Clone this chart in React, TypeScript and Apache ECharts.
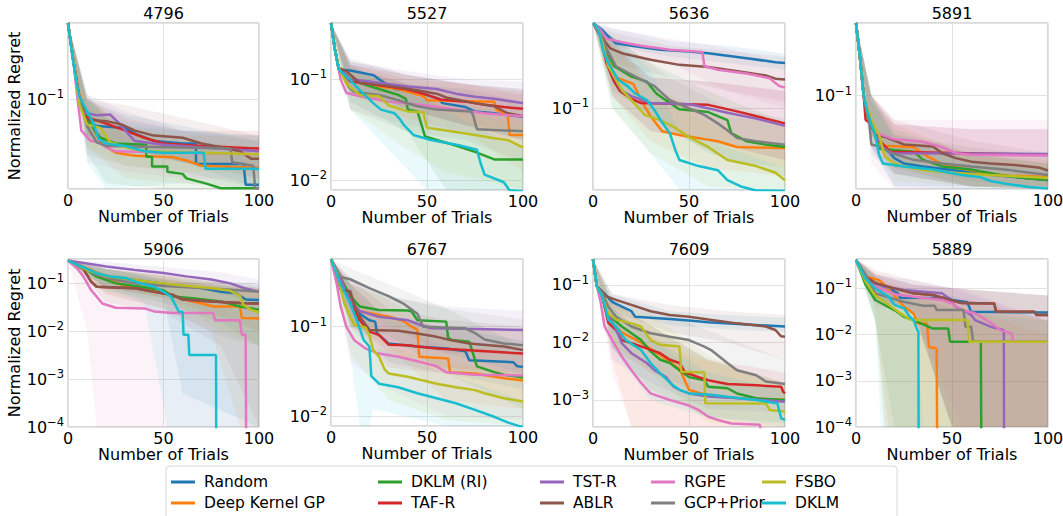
import React, { useEffect, useRef } from 'react';
import * as echarts from 'echarts';

const methods = ['Random', 'Deep Kernel GP', 'DKLM (RI)', 'TAF-R', 'TST-R', 'ABLR', 'RGPE', 'GCP+Prior', 'FSBO', 'DKLM'];
const colors = ['#1f77b4', '#ff7f0e', '#2ca02c', '#d62728', '#9467bd', '#8c564b', '#e377c2', '#7f7f7f', '#bcbd22', '#17becf'];
const panelTitles = ['4796', '5527', '5636', '5891', '5906', '6767', '7609', '5889'];
const yMins = [0.01795, 0.00796, 0.0284, 0.0191, 0.0001, 0.00773, 0.000339, 0.0001];
const yMaxs = [0.434, 0.362, 0.369, 0.361, 0.323, 0.573, 0.283, 0.432];
const xTickInterval = 50;
const Z = 0.000001;

// ---- 4796 ----
const lines4796 = [
  [[0,0.434],[3,0.2],[6,0.1],[10,0.065],[15,0.06],[30,0.058],[35,0.052],[45,0.045],[60,0.043],[67,0.043],[67,0.029],[92,0.029],[93,0.0195],[100,0.0195]],
  [[0,0.434],[3,0.2],[6,0.11],[10,0.075],[15,0.05],[18,0.042],[25,0.036],[35,0.034],[55,0.033],[62,0.031],[70,0.028],[100,0.027]],
  [[0,0.434],[3,0.2],[6,0.1],[10,0.07],[14,0.055],[17,0.048],[25,0.043],[41,0.042],[41,0.0334],[44,0.0334],[44,0.0276],[52,0.0276],[52,0.025],[60,0.024],[62,0.022],[72,0.02],[80,0.0182],[100,0.0182]],
  [[0,0.434],[3,0.2],[6,0.1],[9,0.072],[20,0.063],[30,0.055],[40,0.048],[50,0.043],[70,0.041],[100,0.039]],
  [[0,0.434],[3,0.2],[6,0.1],[8,0.078],[15,0.074],[22,0.075],[26,0.065],[30,0.055],[35,0.045],[50,0.042],[100,0.037]],
  [[0,0.434],[3,0.2],[6,0.1],[9,0.068],[20,0.066],[28,0.062],[35,0.055],[45,0.05],[60,0.048],[70,0.043],[80,0.04],[90,0.037],[96,0.032],[100,0.032]],
  [[0,0.434],[3,0.2],[5,0.1],[7,0.055],[12,0.045],[16,0.044],[20,0.04],[25,0.037],[100,0.035]],
  [[0,0.434],[3,0.2],[6,0.1],[10,0.06],[15,0.044],[20,0.041],[85,0.039],[86,0.03],[97,0.028],[98,0.0182],[100,0.0182]],
  [[0,0.434],[3,0.2],[6,0.09],[10,0.062],[17,0.058],[22,0.044],[30,0.04],[40,0.037],[100,0.035]],
  [[0,0.434],[2,0.25],[4,0.15],[6,0.105],[10,0.08],[13,0.065],[16,0.047],[20,0.043],[30,0.041],[40,0.037],[50,0.036],[71,0.036],[72,0.0265],[100,0.0265]],
];
const bands4796 = [
  [[0,0.43,0.43],[10,0.045,0.1],[30,0.04,0.075],[60,0.03,0.06],[100,0.012,0.045]],
  [[0,0.43,0.43],[10,0.04,0.11],[30,0.022,0.05],[60,0.02,0.045],[100,0.018,0.04]],
  [[0,0.43,0.43],[10,0.035,0.1],[20,0.02,0.07],[50,0.01,0.045],[100,0.008,0.035]],
  [[0,0.43,0.43],[10,0.05,0.1],[30,0.04,0.07],[60,0.03,0.055],[100,0.028,0.055]],
  [[0,0.43,0.43],[10,0.05,0.11],[30,0.035,0.08],[60,0.03,0.055],[100,0.025,0.05]],
  [[0,0.43,0.43],[10,0.045,0.1],[30,0.04,0.09],[60,0.03,0.07],[100,0.022,0.05]],
  [[0,0.43,0.43],[10,0.03,0.09],[30,0.025,0.055],[60,0.022,0.05],[100,0.022,0.05]],
  [[0,0.43,0.43],[10,0.035,0.1],[30,0.028,0.06],[60,0.025,0.055],[100,0.01,0.045]],
  [[0,0.43,0.43],[10,0.04,0.1],[30,0.028,0.06],[60,0.025,0.05],[100,0.025,0.05]],
  [[0,0.43,0.43],[10,0.03,0.11],[20,0.015,0.07],[60,0.02,0.055],[100,0.012,0.05]],
];

// ---- 5527 ----
const lines5527 = [
  [[0,0.362],[2,0.2],[4,0.125],[10,0.122],[22,0.11],[25,0.1],[33,0.08],[45,0.075],[56,0.064],[58,0.058],[70,0.053],[75,0.048],[85,0.046],[100,0.0425]],
  [[0,0.362],[2,0.2],[4,0.13],[10,0.1],[20,0.09],[25,0.085],[35,0.08],[40,0.075],[48,0.068],[50,0.062],[85,0.06],[86,0.05],[90,0.046],[92,0.046],[93,0.028],[100,0.028]],
  [[0,0.362],[2,0.2],[4,0.13],[10,0.1],[18,0.088],[25,0.08],[35,0.07],[39,0.064],[40,0.05],[45,0.048],[47,0.036],[49,0.027],[55,0.025],[65,0.022],[75,0.019],[85,0.016],[100,0.016]],
  [[0,0.362],[2,0.2],[4,0.13],[10,0.095],[20,0.09],[30,0.085],[40,0.079],[50,0.07],[57,0.063],[70,0.06],[80,0.056],[90,0.053],[100,0.051]],
  [[0,0.362],[2,0.2],[4,0.13],[10,0.1],[20,0.095],[30,0.09],[40,0.085],[55,0.08],[65,0.072],[75,0.067],[85,0.064],[100,0.058]],
  [[0,0.362],[2,0.2],[4,0.13],[8,0.12],[15,0.092],[30,0.086],[45,0.078],[55,0.072],[60,0.066],[75,0.058],[85,0.054],[92,0.046],[100,0.043]],
  [[0,0.362],[2,0.2],[5,0.1],[8,0.073],[15,0.068],[30,0.06],[50,0.055],[65,0.05],[80,0.046],[100,0.043]],
  [[0,0.362],[2,0.2],[4,0.13],[9,0.085],[12,0.075],[25,0.07],[35,0.062],[45,0.054],[55,0.05],[73,0.048],[74,0.044],[76,0.032],[100,0.0305]],
  [[0,0.362],[2,0.2],[4,0.13],[8,0.09],[15,0.07],[25,0.068],[30,0.055],[40,0.048],[48,0.047],[50,0.033],[60,0.031],[75,0.028],[85,0.026],[92,0.025],[100,0.021]],
  [[0,0.362],[2,0.2],[4,0.125],[10,0.098],[15,0.078],[22,0.058],[26,0.05],[33,0.046],[36,0.04],[38,0.035],[43,0.028],[52,0.025],[66,0.0223],[76,0.02],[78,0.0145],[80,0.0113],[90,0.0095],[93,0.0079],[100,0.0077]],
];
const bands5527 = [
  [[0,0.36,0.36],[10,0.08,0.15],[40,0.05,0.11],[70,0.035,0.09],[100,0.025,0.08]],
  [[0,0.36,0.36],[10,0.07,0.14],[40,0.04,0.1],[70,0.03,0.09],[100,0.012,0.07]],
  [[0,0.36,0.36],[10,0.06,0.13],[40,0.03,0.09],[60,0.008,0.05],[100,0.006,0.035]],
  [[0,0.36,0.36],[10,0.07,0.14],[40,0.05,0.11],[70,0.035,0.09],[100,0.03,0.08]],
  [[0,0.36,0.36],[10,0.07,0.15],[40,0.06,0.12],[70,0.045,0.1],[100,0.035,0.095]],
  [[0,0.36,0.36],[10,0.08,0.16],[40,0.05,0.11],[70,0.035,0.09],[100,0.025,0.075]],
  [[0,0.36,0.36],[10,0.05,0.14],[40,0.035,0.09],[70,0.03,0.08],[100,0.025,0.07]],
  [[0,0.36,0.36],[10,0.05,0.13],[40,0.03,0.09],[70,0.025,0.08],[100,0.015,0.06]],
  [[0,0.36,0.36],[10,0.05,0.12],[40,0.02,0.08],[60,0.012,0.06],[100,0.008,0.045]],
  [[0,0.36,0.36],[10,0.05,0.14],[30,0.02,0.09],[50,0.006,0.06],[100,0.005,0.02]],
];

// ---- 5636 ----
const lines5636 = [
  [[0,0.369],[5,0.33],[8,0.3],[12,0.27],[20,0.26],[35,0.245],[50,0.238],[60,0.232],[80,0.215],[95,0.202],[100,0.2]],
  [[0,0.369],[4,0.3],[7,0.22],[12,0.16],[21,0.145],[25,0.113],[30,0.088],[36,0.07],[45,0.066],[55,0.063],[65,0.06],[75,0.055],[100,0.054]],
  [[0,0.369],[4,0.3],[7,0.24],[11,0.19],[20,0.162],[28,0.15],[33,0.125],[37,0.115],[45,0.098],[60,0.094],[70,0.083],[72,0.068],[80,0.06],[90,0.057],[100,0.055]],
  [[0,0.369],[4,0.3],[7,0.2],[11,0.15],[14,0.13],[20,0.115],[25,0.108],[60,0.105],[75,0.095],[90,0.085],[100,0.079]],
  [[0,0.369],[4,0.3],[7,0.22],[11,0.16],[15,0.13],[20,0.12],[30,0.108],[50,0.106],[55,0.103],[70,0.093],[85,0.085],[100,0.076]],
  [[0,0.369],[4,0.32],[6,0.28],[9,0.25],[15,0.232],[30,0.21],[45,0.194],[60,0.188],[70,0.18],[78,0.174],[90,0.165],[95,0.157],[100,0.155]],
  [[0,0.369],[4,0.33],[7,0.29],[15,0.275],[25,0.26],[40,0.245],[57,0.236],[58,0.19],[65,0.18],[80,0.17],[92,0.158],[97,0.14],[100,0.137]],
  [[0,0.369],[4,0.31],[7,0.25],[12,0.19],[22,0.162],[32,0.14],[40,0.113],[48,0.102],[58,0.09],[65,0.079],[70,0.071],[75,0.063],[85,0.06],[100,0.057]],
  [[0,0.369],[3,0.33],[5,0.27],[8,0.19],[15,0.132],[20,0.113],[27,0.09],[35,0.083],[42,0.075],[50,0.064],[60,0.055],[70,0.045],[85,0.041],[95,0.037],[100,0.033]],
  [[0,0.369],[3,0.33],[5,0.25],[7,0.21],[13,0.155],[18,0.14],[22,0.125],[28,0.113],[32,0.097],[36,0.08],[40,0.068],[43,0.052],[45,0.045],[55,0.041],[65,0.0385],[70,0.033],[77,0.03],[85,0.0282],[100,0.028]],
];
const bands5636 = [
  [[0,0.37,0.37],[10,0.26,0.34],[40,0.22,0.28],[70,0.2,0.26],[100,0.18,0.23]],
  [[0,0.37,0.37],[10,0.12,0.3],[30,0.06,0.14],[60,0.04,0.09],[100,0.035,0.08]],
  [[0,0.37,0.37],[10,0.13,0.3],[30,0.09,0.2],[60,0.05,0.13],[100,0.035,0.08]],
  [[0,0.37,0.37],[10,0.12,0.26],[30,0.07,0.16],[60,0.06,0.15],[100,0.045,0.13]],
  [[0,0.37,0.37],[10,0.12,0.28],[30,0.07,0.16],[60,0.06,0.15],[100,0.045,0.13]],
  [[0,0.37,0.37],[10,0.2,0.32],[40,0.16,0.26],[70,0.13,0.24],[100,0.11,0.22]],
  [[0,0.37,0.37],[10,0.22,0.34],[40,0.2,0.29],[70,0.13,0.25],[100,0.1,0.2]],
  [[0,0.37,0.37],[10,0.14,0.3],[40,0.07,0.16],[70,0.045,0.1],[100,0.04,0.085]],
  [[0,0.37,0.37],[10,0.1,0.26],[30,0.05,0.14],[60,0.03,0.08],[100,0.025,0.05]],
  [[0,0.37,0.37],[10,0.1,0.3],[30,0.05,0.18],[45,0.02,0.07],[100,0.02,0.04]],
];

// ---- 5891 ----
const lines5891 = [
  [[0,0.361],[2,0.2],[4,0.1],[6,0.07],[9,0.055],[15,0.04],[20,0.033],[25,0.03],[35,0.0285],[50,0.0267],[65,0.025],[80,0.0238],[100,0.0224]],
  [[0,0.361],[2,0.2],[4,0.1],[6,0.07],[10,0.05],[15,0.041],[30,0.04],[35,0.0355],[45,0.0295],[55,0.0275],[70,0.025],[80,0.0242],[100,0.0236]],
  [[0,0.361],[2,0.2],[4,0.1],[6,0.07],[10,0.05],[12,0.039],[30,0.037],[35,0.032],[45,0.0285],[60,0.027],[75,0.0245],[90,0.023],[100,0.0224]],
  [[0,0.361],[2,0.2],[4,0.1],[5,0.065],[8,0.06],[12,0.045],[18,0.037],[100,0.035]],
  [[0,0.361],[2,0.2],[4,0.1],[6,0.07],[10,0.052],[14,0.04],[18,0.036],[100,0.0355]],
  [[0,0.361],[2,0.2],[4,0.1],[6,0.07],[10,0.05],[15,0.048],[20,0.045],[25,0.042],[40,0.0405],[45,0.036],[52,0.033],[60,0.031],[70,0.03],[85,0.029],[95,0.028],[100,0.0265]],
  [[0,0.361],[2,0.2],[4,0.1],[6,0.073],[8,0.065],[10,0.052],[20,0.046],[35,0.044],[40,0.042],[45,0.04],[52,0.036],[60,0.035],[100,0.0345]],
  [[0,0.361],[2,0.2],[4,0.1],[7,0.06],[8,0.042],[12,0.0405],[20,0.0355],[30,0.032],[45,0.03],[60,0.0285],[80,0.0267],[100,0.0245]],
  [[0,0.361],[2,0.2],[4,0.1],[6,0.08],[9,0.06],[12,0.05],[15,0.034],[20,0.03],[25,0.0285],[35,0.0267],[50,0.0255],[70,0.0245],[100,0.0232]],
  [[0,0.361],[2,0.2],[4,0.1],[6,0.075],[8,0.06],[10,0.05],[12,0.035],[14,0.03],[25,0.0285],[40,0.027],[55,0.0245],[65,0.0235],[70,0.022],[78,0.021],[90,0.0198],[100,0.0193]],
];
const bands5891 = [
  [[0,0.36,0.36],[8,0.05,0.1],[20,0.025,0.05],[60,0.02,0.035],[100,0.018,0.03]],
  [[0,0.36,0.36],[8,0.05,0.1],[20,0.028,0.06],[60,0.02,0.035],[100,0.018,0.032]],
  [[0,0.36,0.36],[8,0.05,0.1],[20,0.028,0.055],[60,0.02,0.036],[100,0.018,0.03]],
  [[0,0.36,0.36],[8,0.04,0.09],[20,0.025,0.06],[60,0.02,0.055],[100,0.02,0.055]],
  [[0,0.36,0.36],[8,0.04,0.1],[20,0.02,0.06],[60,0.02,0.055],[100,0.02,0.055]],
  [[0,0.36,0.36],[8,0.05,0.1],[20,0.03,0.065],[60,0.022,0.045],[100,0.02,0.036]],
  [[0,0.36,0.36],[8,0.03,0.1],[20,0.015,0.065],[60,0.015,0.065],[100,0.015,0.065]],
  [[0,0.36,0.36],[8,0.035,0.09],[20,0.025,0.05],[60,0.02,0.04],[100,0.018,0.034]],
  [[0,0.36,0.36],[8,0.05,0.1],[20,0.022,0.045],[60,0.02,0.034],[100,0.018,0.03]],
  [[0,0.36,0.36],[8,0.04,0.1],[20,0.02,0.045],[60,0.018,0.032],[100,0.015,0.028]],
];

// ---- 5906 ----
const lines5906 = [
  [[0,0.3],[10,0.2],[20,0.138],[35,0.118],[55,0.092],[70,0.08],[80,0.067],[88,0.062],[93,0.046],[100,0.045]],
  [[0,0.3],[12,0.19],[20,0.13],[31,0.085],[45,0.07],[55,0.055],[62,0.045],[70,0.038],[76,0.033],[90,0.033],[91,0.019],[100,0.0185]],
  [[0,0.3],[10,0.19],[15,0.138],[25,0.1],[38,0.085],[50,0.072],[55,0.053],[65,0.049],[80,0.042],[90,0.033],[100,0.028]],
  [[0,0.3],[8,0.2],[12,0.11],[15,0.085],[35,0.079],[45,0.067],[55,0.057],[60,0.046],[75,0.042],[90,0.039],[100,0.038]],
  [[0,0.3],[10,0.26],[20,0.225],[35,0.19],[50,0.165],[62,0.14],[75,0.12],[85,0.1],[92,0.08],[100,0.067]],
  [[0,0.3],[8,0.2],[12,0.11],[15,0.085],[35,0.079],[45,0.067],[55,0.057],[60,0.046],[75,0.042],[90,0.039],[100,0.038]],
  [[0,0.3],[5,0.2],[8,0.14],[12,0.073],[15,0.053],[18,0.038],[25,0.031],[40,0.03],[45,0.026],[55,0.024],[76,0.024],[77,0.017],[90,0.017],[91,0.0085],[93,0.0085],[93.5,Z]],
  [[0,0.3],[8,0.22],[15,0.15],[25,0.118],[35,0.1],[50,0.088],[70,0.08],[85,0.074],[100,0.067]],
  [[0,0.3],[10,0.19],[20,0.14],[30,0.125],[45,0.105],[60,0.09],[75,0.08],[85,0.07],[90,0.055],[92,0.035],[96,0.028],[100,0.025]],
  [[0,0.3],[5,0.24],[10,0.2],[15,0.162],[22,0.14],[30,0.13],[38,0.1],[45,0.085],[50,0.067],[54,0.053],[58,0.0255],[60,0.0255],[60.5,0.0085],[63,0.0085],[63.5,0.0032],[77.5,0.0032],[77.7,Z]],
];
const bands5906 = [
  [[0,0.3,0.3],[20,0.08,0.2],[50,0.05,0.14],[60,0.0005,0.12],[100,0.00001,0.09]],
  [[0,0.3,0.3],[20,0.06,0.2],[50,0.03,0.13],[75,0.01,0.09],[90,0.00001,0.07],[100,0.00001,0.06]],
  [[0,0.3,0.3],[20,0.07,0.2],[50,0.04,0.12],[80,0.015,0.09],[100,0.005,0.07]],
  [[0,0.3,0.3],[20,0.08,0.2],[50,0.05,0.15],[80,0.02,0.1],[100,0.01,0.08]],
  [[0,0.3,0.3],[20,0.15,0.28],[50,0.1,0.22],[80,0.06,0.17],[100,0.04,0.12]],
  [[0,0.3,0.3],[20,0.04,0.16],[50,0.025,0.12],[80,0.005,0.09],[100,0.00001,0.08]],
  [[0,0.3,0.3],[10,0.01,0.2],[15,0.00001,0.15],[50,0.00001,0.06],[100,0.00001,0.04]],
  [[0,0.3,0.3],[20,0.06,0.2],[50,0.03,0.15],[80,0.008,0.11],[100,0.005,0.1]],
  [[0,0.3,0.3],[20,0.08,0.2],[50,0.05,0.15],[80,0.01,0.11],[100,0.005,0.08]],
  [[0,0.3,0.3],[20,0.08,0.2],[40,0.04,0.15],[52,0.00001,0.1],[100,0.00001,0.05]],
];

// ---- 6767 ----
const lines6767 = [
  [[0,0.57],[5,0.35],[10,0.2],[15,0.14],[20,0.118],[23,0.114],[24,0.084],[30,0.065],[45,0.06],[60,0.057],[70,0.053],[72,0.042],[95,0.04],[97,0.036],[100,0.0355]],
  [[0,0.57],[5,0.35],[10,0.2],[12,0.154],[25,0.135],[30,0.13],[38,0.115],[42,0.1],[45,0.092],[46,0.046],[61,0.044],[62,0.031],[75,0.03],[90,0.0265],[100,0.025]],
  [[0,0.57],[5,0.35],[10,0.22],[15,0.168],[25,0.154],[40,0.152],[42,0.148],[45,0.118],[60,0.114],[61,0.075],[63,0.071],[72,0.068],[74,0.05],[76,0.036],[85,0.031],[90,0.029],[100,0.027]],
  [[0,0.57],[5,0.35],[10,0.19],[12,0.154],[15,0.118],[20,0.088],[25,0.081],[30,0.063],[40,0.062],[45,0.06],[55,0.057],[70,0.055],[100,0.05]],
  [[0,0.57],[5,0.35],[10,0.19],[15,0.15],[25,0.129],[40,0.118],[45,0.108],[52,0.096],[75,0.094],[100,0.092]],
  [[0,0.57],[5,0.26],[10,0.25],[12,0.18],[15,0.13],[20,0.092],[35,0.09],[45,0.084],[55,0.077],[62,0.071],[72,0.065],[90,0.06],[100,0.055]],
  [[0,0.57],[3,0.3],[5,0.17],[8,0.1],[12,0.071],[18,0.057],[25,0.05],[35,0.046],[45,0.041],[55,0.036],[60,0.031],[75,0.029],[100,0.0285]],
  [[0,0.57],[5,0.36],[10,0.34],[20,0.27],[30,0.22],[38,0.18],[45,0.14],[48,0.1],[70,0.096],[75,0.085],[80,0.072],[90,0.065],[100,0.062]],
  [[0,0.57],[3,0.4],[5,0.27],[7,0.18],[12,0.105],[18,0.098],[20,0.08],[22,0.055],[25,0.046],[28,0.033],[30,0.03],[40,0.0275],[55,0.023],[65,0.021],[75,0.0195],[80,0.018],[90,0.0158],[100,0.0145]],
  [[0,0.57],[5,0.3],[10,0.182],[14,0.11],[17,0.071],[20,0.06],[21,0.028],[25,0.023],[35,0.021],[45,0.018],[55,0.0158],[65,0.0139],[75,0.0117],[85,0.0098],[92,0.0085],[98,0.0077],[100,0.0076]],
];
const bands6767 = [
  [[0,0.57,0.57],[10,0.12,0.3],[30,0.04,0.12],[60,0.03,0.1],[100,0.02,0.07]],
  [[0,0.57,0.57],[10,0.1,0.3],[30,0.06,0.2],[60,0.015,0.08],[100,0.012,0.05]],
  [[0,0.57,0.57],[10,0.1,0.3],[30,0.08,0.22],[60,0.03,0.16],[100,0.012,0.06]],
  [[0,0.57,0.57],[10,0.1,0.3],[30,0.035,0.12],[60,0.03,0.1],[100,0.025,0.09]],
  [[0,0.57,0.57],[10,0.1,0.35],[30,0.07,0.22],[60,0.05,0.17],[100,0.05,0.15]],
  [[0,0.57,0.57],[10,0.12,0.35],[30,0.05,0.16],[60,0.035,0.12],[100,0.03,0.1]],
  [[0,0.57,0.57],[10,0.04,0.2],[30,0.02,0.1],[60,0.01,0.06],[100,0.009,0.05]],
  [[0,0.57,0.57],[10,0.2,0.45],[30,0.1,0.3],[60,0.05,0.16],[100,0.03,0.12]],
  [[0,0.57,0.57],[10,0.05,0.3],[30,0.015,0.06],[60,0.009,0.04],[100,0.005,0.03]],
  [[0,0.57,0.57],[10,0.05,0.3],[15,0.003,0.15],[20,0.003,0.12],[22,0.012,0.06],[60,0.006,0.03],[100,0.003,0.015]],
];

// ---- 7609 ----
const lines7609 = [
  [[0,0.28],[2,0.095],[7,0.065],[10,0.051],[15,0.042],[20,0.035],[22,0.028],[30,0.027],[40,0.0255],[50,0.024],[60,0.0225],[80,0.0205],[100,0.019]],
  [[0,0.28],[2,0.095],[5,0.06],[8,0.025],[15,0.015],[25,0.01],[35,0.006],[45,0.0035],[47,0.0025],[50,0.0015],[60,0.0012],[80,0.00105],[100,0.001]],
  [[0,0.28],[2,0.095],[5,0.06],[8,0.03],[15,0.019],[20,0.0145],[25,0.011],[30,0.007],[35,0.005],[40,0.0044],[45,0.0033],[50,0.0025],[58,0.0022],[60,0.0017],[70,0.0016],[75,0.0013],[85,0.00107],[100,0.001]],
  [[0,0.28],[2,0.095],[5,0.06],[8,0.022],[12,0.0165],[15,0.011],[20,0.0097],[28,0.0079],[35,0.0065],[40,0.005],[45,0.0044],[48,0.003],[55,0.0025],[60,0.0022],[70,0.0019],[85,0.0018],[98,0.0017],[99,0.0014],[100,0.0013]],
  [[0,0.28],[2,0.095],[5,0.06],[8,0.03],[12,0.017],[15,0.0097],[20,0.0065],[28,0.0044],[32,0.0033],[38,0.0025],[42,0.0017],[45,0.0015],[50,0.0013],[60,0.00115],[75,0.00107],[100,0.00093]],
  [[0,0.28],[2,0.095],[7,0.063],[12,0.055],[20,0.045],[30,0.035],[40,0.03],[50,0.028],[60,0.025],[75,0.0215],[90,0.019],[95,0.0165],[98,0.0128],[100,0.0126]],
  [[0,0.28],[2,0.095],[4,0.05],[6,0.019],[10,0.011],[15,0.0057],[20,0.0033],[25,0.002],[30,0.0013],[40,0.001],[50,0.0008],[55,0.00067],[60,0.00051],[65,0.00045],[72,0.00039],[87,0.00037],[88,0.0002],[100,0.0002]],
  [[0,0.28],[2,0.095],[5,0.07],[8,0.042],[12,0.028],[20,0.019],[30,0.0145],[40,0.0126],[50,0.011],[58,0.0085],[62,0.0072],[70,0.0044],[75,0.0033],[85,0.0027],[90,0.0021],[100,0.0019]],
  [[0,0.28],[2,0.095],[5,0.06],[8,0.032],[12,0.025],[20,0.0215],[25,0.019],[30,0.011],[35,0.0091],[45,0.0085],[46,0.0031],[58,0.003],[58.5,0.00088],[90,0.00087],[92,0.00067],[100,0.00063]],
  [[0,0.28],[2,0.095],[5,0.06],[8,0.025],[12,0.019],[17,0.011],[25,0.0074],[30,0.0044],[35,0.0029],[40,0.002],[45,0.0015],[50,0.0013],[60,0.00125],[70,0.00114],[85,0.001],[96,0.00088],[98,0.00048],[100,0.00045]],
];
const bands7609 = [
  [[0,0.28,0.28],[10,0.04,0.07],[40,0.02,0.035],[70,0.017,0.03],[100,0.015,0.027]],
  [[0,0.28,0.28],[10,0.005,0.04],[20,0.0002,0.02],[50,0.0003,0.006],[100,0.0003,0.002]],
  [[0,0.28,0.28],[10,0.008,0.05],[30,0.0015,0.02],[60,0.0005,0.005],[100,0.0004,0.002]],
  [[0,0.28,0.28],[10,0.008,0.05],[30,0.003,0.02],[60,0.0012,0.005],[100,0.001,0.003]],
  [[0,0.28,0.28],[10,0.005,0.04],[30,0.002,0.012],[60,0.0007,0.002],[100,0.0006,0.0015]],
  [[0,0.28,0.28],[10,0.035,0.07],[40,0.015,0.045],[70,0.01,0.035],[100,0.005,0.03]],
  [[0,0.28,0.28],[10,0.003,0.03],[20,0.0002,0.01],[50,0.0002,0.002],[100,0.0002,0.001]],
  [[0,0.28,0.28],[10,0.015,0.06],[40,0.005,0.03],[70,0.0015,0.012],[100,0.001,0.005]],
  [[0,0.28,0.28],[10,0.01,0.05],[30,0.003,0.03],[60,0.0004,0.006],[100,0.0003,0.0015]],
  [[0,0.28,0.28],[10,0.008,0.04],[30,0.001,0.012],[60,0.0005,0.003],[100,0.0002,0.0015]],
];

// ---- 5889 ----
const lines5889 = [
  [[0,0.41],[5,0.15],[15,0.11],[22,0.078],[23,0.063],[48,0.062],[50,0.056],[58,0.05],[60,0.031],[100,0.03]],
  [[0,0.41],[5,0.18],[12,0.15],[14,0.128],[20,0.07],[25,0.04],[30,0.0287],[32,0.0174],[37,0.0174],[38,0.0054],[42,0.005],[42.5,Z]],
  [[0,0.41],[5,0.12],[10,0.056],[20,0.034],[25,0.0243],[30,0.0206],[40,0.0135],[48,0.0135],[49,0.007],[65,0.007],[65.5,Z]],
  [[0,0.41],[5,0.18],[10,0.13],[20,0.1],[30,0.078],[40,0.072],[50,0.055],[55,0.048],[72,0.047],[73,0.031],[93,0.031],[94,0.0265],[100,0.0265]],
  [[0,0.41],[5,0.16],[15,0.108],[25,0.092],[35,0.085],[45,0.078],[48,0.062],[52,0.04],[58,0.03],[60,0.0264],[62,0.0206],[70,0.0148],[77,0.0125],[77.2,Z]],
  [[0,0.41],[5,0.18],[10,0.13],[20,0.1],[30,0.078],[40,0.072],[50,0.055],[55,0.048],[72,0.047],[73,0.031],[93,0.031],[94,0.0265],[100,0.0265]],
  [[0,0.41],[5,0.15],[10,0.11],[20,0.075],[30,0.066],[45,0.056],[50,0.047],[55,0.034],[62,0.029],[68,0.0206],[73,0.0148],[75,0.0125],[81,0.0106],[82,0.007],[100,0.007]],
  [[0,0.41],[5,0.2],[10,0.078],[25,0.051],[35,0.042],[41,0.042],[42,0.034],[56,0.034],[57,0.0148],[60,0.0148],[61,0.007],[100,0.007]],
  [[0,0.41],[5,0.14],[10,0.07],[15,0.0515],[22,0.031],[28,0.0215],[30,0.0206],[58,0.0206],[59,0.007],[100,0.007]],
  [[0,0.41],[5,0.16],[10,0.1],[17,0.066],[20,0.044],[25,0.037],[28,0.0243],[30,0.0206],[32,0.0125],[32.5,0.0115],[32.7,Z]],
];
const bands5889 = [
  [[0,0.43,0.43],[10,0.06,0.2],[30,0.03,0.12],[50,0.00001,0.1],[100,0.00001,0.07]],
  [[0,0.43,0.43],[10,0.04,0.2],[15,0.00001,0.15],[40,0.00001,0.06],[100,0.00001,0.01]],
  [[0,0.43,0.43],[10,0.02,0.15],[20,0.00001,0.08],[60,0.00001,0.03],[100,0.00001,0.02]],
  [[0,0.43,0.43],[10,0.06,0.2],[30,0.03,0.12],[50,0.00001,0.1],[100,0.00001,0.07]],
  [[0,0.43,0.43],[10,0.06,0.2],[30,0.04,0.15],[50,0.00001,0.1],[100,0.00001,0.02]],
  [[0,0.43,0.43],[10,0.06,0.25],[30,0.03,0.15],[50,0.00001,0.1],[100,0.00001,0.07]],
  [[0,0.43,0.43],[10,0.04,0.22],[30,0.03,0.12],[55,0.00001,0.1],[100,0.00001,0.02]],
  [[0,0.43,0.43],[10,0.02,0.18],[17,0.00001,0.12],[50,0.00001,0.07],[100,0.00001,0.02]],
  [[0,0.43,0.43],[10,0.02,0.18],[15,0.00001,0.12],[50,0.00001,0.06],[100,0.00001,0.02]],
  [[0,0.43,0.43],[10,0.02,0.18],[13,0.00001,0.12],[30,0.00001,0.05],[35,0.00001,0.00001],[100,0.00001,0.00001]],
];

const allLines = [lines4796, lines5527, lines5636, lines5891, lines5906, lines6767, lines7609, lines5889];
const allBands = [bands4796, bands5527, bands5636, bands5891, bands5906, bands6767, bands7609, bands5889];
const legendColumns = [[0, 1], [2, 3], [4, 5], [6, 7], [8, 9]];

const layout = [
  { left: 68, top: 23, width: 191, height: 166 },
  { left: 331, top: 23, width: 192, height: 167 },
  { left: 593, top: 23, width: 192, height: 167 },
  { left: 856, top: 23, width: 192, height: 166 },
  { left: 68, top: 259, width: 191, height: 168 },
  { left: 331, top: 259, width: 192, height: 167 },
  { left: 593, top: 259, width: 192, height: 168 },
  { left: 856, top: 259, width: 192, height: 168 },
];
const legendLefts = [171, 378, 540, 651, 762];

const FONT = 'DejaVu Sans';

function fmtLog(v: number) {
  const e = Math.log10(v);
  const r = Math.round(e);
  if (Math.abs(e - r) > 1e-6) return '';
  return '{b|10}{s|' + (r < 0 ? '\u2212' : '') + Math.abs(r) + '}';
}

function buildOption() {
  const grid = layout.map((g) => ({
    ...g, containLabel: false, outerBoundsMode: 'none', show: true,
    borderColor: '#b0b0b0', borderWidth: 1, backgroundColor: 'transparent',
  }));
  const xAxis = layout.map((_, i) => ({
    type: 'value', gridIndex: i, min: 0, max: 100, interval: xTickInterval,
    name: 'Number of Trials', nameLocation: 'middle', nameGap: 19,
    nameTextStyle: { fontSize: 16, color: '#000', fontFamily: FONT },
    axisLine: { show: false }, axisTick: { show: false },
    axisLabel: { fontSize: 16, color: '#000', margin: 3, fontFamily: FONT },
    splitLine: { show: true, lineStyle: { color: '#e3e3e3', width: 1 } },
  }));
  const yAxis = layout.map((_, i) => ({
    type: 'log', logBase: 10, gridIndex: i, min: yMins[i], max: yMaxs[i],
    name: i % 4 === 0 ? 'Normalized Regret' : '', nameLocation: 'middle', nameGap: 41, nameRotate: 90,
    nameTextStyle: { fontSize: 16, color: '#000', fontFamily: FONT },
    axisLine: { show: false }, axisTick: { show: false },
    axisLabel: {
      formatter: fmtLog, color: '#000', margin: 4, fontFamily: FONT, showMinLabel: true, showMaxLabel: true,
      rich: {
        b: { fontSize: 16, fontFamily: FONT, color: '#000' },
        s: { fontSize: 11.5, fontFamily: FONT, color: '#000', padding: [0, 0, 10, 0] },
      },
    },
    splitLine: { show: true, lineStyle: { color: '#e3e3e3', width: 1 } },
    minorTick: { show: false },
  }));
  const series: any[] = [];
  allBands.forEach((bands, i) => {
    bands.forEach((band, k) => {
      const lo = yMins[i], hi = yMaxs[i];
      const clamp = (v: number) => Math.min(hi, Math.max(lo, v));
      series.push({
        type: 'custom', name: methods[k] + ' band ' + i, xAxisIndex: i, yAxisIndex: i,
        data: [[50, yMaxs[i]]], silent: true, clip: true, z: 1,
        renderItem: (_p: any, api: any) => {
          const upper = band.map((b) => api.coord([b[0], clamp(b[2])]));
          const lower = band.slice().reverse().map((b) => api.coord([b[0], clamp(b[1])]));
          return {
            type: 'polygon', shape: { points: upper.concat(lower) },
            style: { fill: echarts.color.modifyAlpha(colors[k], 0.09), stroke: 'none' },
          };
        },
      });
    });
  });
  allLines.forEach((lines, i) => {
    lines.forEach((data, k) => {
      series.push({
        type: 'line', name: methods[k], xAxisIndex: i, yAxisIndex: i, data,
        showSymbol: false, symbol: 'none', clip: true, silent: true, z: 3,
        lineStyle: { width: 2.5, color: colors[k] }, itemStyle: { color: colors[k] },
      });
    });
  });
  const title = layout.map((g, i) => ({
    text: panelTitles[i], left: g.left + g.width / 2, top: g.top - 18, textAlign: 'center', padding: 0,
    textStyle: { fontSize: 16, fontWeight: 'normal', color: '#000', fontFamily: FONT },
  }));
  const legend = legendColumns.map((col, c) => ({
    data: col.map((k) => methods[k]), orient: 'vertical', left: legendLefts[c], top: 473,
    itemWidth: 24, itemHeight: 3, itemGap: 3, icon: 'rect', selectedMode: false, padding: 0,
    textStyle: { fontSize: 15.5, color: '#000', fontFamily: FONT, lineHeight: 18, padding: [0, 0, 0, 4] },
  }));
  return {
    animation: false,
    textStyle: { fontFamily: FONT },
    title, grid, xAxis, yAxis, series, legend,
    graphic: [{
      type: 'rect', z: 0, silent: true,
      shape: { x: 166, y: 466, width: 731, height: 60, r: 4 },
      style: { fill: '#fff', stroke: '#d8d8d8', lineWidth: 1 },
    }],
  };
}

export default function App() {
  const ref = useRef<HTMLDivElement>(null);
  useEffect(() => {
    const chart = echarts.init(ref.current!, null, { renderer: 'svg' });
    chart.setOption(buildOption() as any);
    return () => chart.dispose();
  }, []);
  return <div ref={ref} style={{ position: 'absolute', left: 0, top: 0, width: 1063, height: 516, background: '#fff' }} />;
}
